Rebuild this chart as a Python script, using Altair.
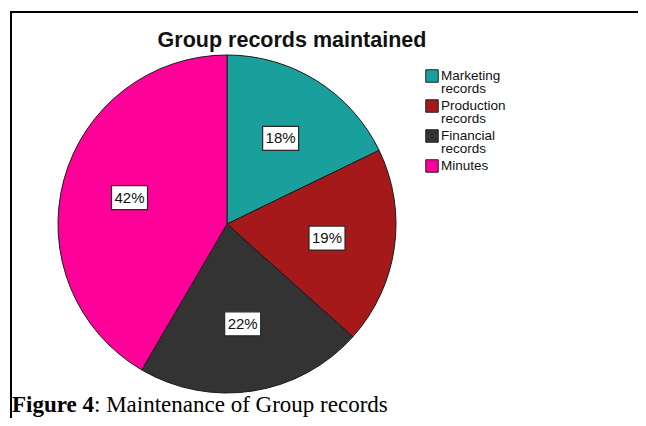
import altair as alt
import pandas as pd

categories = ["Marketing records", "Production records", "Financial records", "Minutes"]
percents = [18, 19, 22, 42]
labels = ["18%", "19%", "22%", "42%"]
colors = ["#19a09c", "#a5191b", "#333333", "#ff0099"]

df = pd.DataFrame({
    "category": categories,
    "value": percents,
    "label": labels,
    "idx": list(range(len(categories))),
})

W, H = 630, 410
CX, CY, R = 219, 216, 169
LR = 101

base = alt.Chart(df)

pie = base.mark_arc(outerRadius=R, stroke="#1a1a1a", strokeWidth=1).encode(
    theta=alt.Theta("value:Q", stack=True),
    order=alt.Order("idx:Q"),
    color=alt.Color(
        "category:N",
        scale=alt.Scale(domain=categories, range=colors),
        sort=categories,
        legend=alt.Legend(
            title=None,
            orient="none",
            legendX=417,
            legendY=61,
            padding=0,
            symbolType="square",
            symbolSize=156,
            symbolStrokeColor="#222222",
            symbolStrokeWidth=1,
            labelFont="Liberation Sans",
            labelFontSize=13.5,
            labelColor="#111111",
            labelOffset=2,
            rowPadding=1,
            labelExpr="split(datum.label, ' ')",
        ),
    ),
    x=alt.value(CX),
    y=alt.value(CY),
)

lab = base.transform_joinaggregate(
    total="sum(value)"
).transform_window(
    cum="sum(value)", sort=[alt.SortField("idx")], frame=[None, 0]
).transform_calculate(
    mid="(datum.cum - datum.value/2)/datum.total*2*PI"
).transform_calculate(
    lx=f"{CX} + {LR}*sin(datum.mid)",
    ly=f"{CY} - {LR}*cos(datum.mid)",
).transform_calculate(
    bx1="datum.lx - 18", bx2="datum.lx + 18",
    by1="datum.ly - 12", by2="datum.ly + 12",
)

boxes = lab.mark_rect(fill="white", stroke="#2a2a2a", strokeWidth=1.2).encode(
    x=alt.X("bx1:Q", scale=None),
    x2="bx2:Q",
    y=alt.Y("by1:Q", scale=None),
    y2="by2:Q",
)

texts = lab.mark_text(font="Liberation Sans", fontSize=15, color="#111111",
                      align="center", baseline="middle").encode(
    x=alt.X("lx:Q", scale=None),
    y=alt.Y("ly:Q", scale=None),
    text="label:N",
)

title = alt.Chart(pd.DataFrame({"t": ["Group records maintained"]})).mark_text(
    font="Liberation Sans", fontSize=21.5, fontWeight="bold", color="#111111",
    align="center", baseline="alphabetic"
).encode(x=alt.value(284), y=alt.value(39), text="t:N")

cap1 = alt.Chart(pd.DataFrame({"t": ["Figure 4"]})).mark_text(
    font="Liberation Serif", fontSize=23, fontWeight="bold", color="#000000",
    align="left", baseline="alphabetic"
).encode(x=alt.value(4), y=alt.value(404), text="t:N")

cap2 = alt.Chart(pd.DataFrame({"t": [": Maintenance of Group records"]})).mark_text(
    font="Liberation Serif", fontSize=23, color="#000000",
    align="left", baseline="alphabetic"
).encode(x=alt.value(86), y=alt.value(404), text="t:N")

top_rule = alt.Chart(pd.DataFrame({"a": [0]})).mark_rule(color="#000000", strokeWidth=2).encode(
    x=alt.value(2), x2=alt.value(W), y=alt.value(4)
)
left_rule = alt.Chart(pd.DataFrame({"a": [0]})).mark_rule(color="#000000", strokeWidth=2).encode(
    x=alt.value(3), y=alt.value(3), y2=alt.value(H)
)

chart = alt.layer(pie, boxes, texts, title, cap1, cap2, top_rule, left_rule).properties(
    width=W, height=H, padding=0, autosize=alt.AutoSizeParams(type="none")
).configure(
    background="white",
    style={"guide-label": {"lineHeight": 13}},
).configure_view(strokeWidth=0, stroke=None)

chart.save("out.html", embed_options={"renderer": "svg", "actions": False})
